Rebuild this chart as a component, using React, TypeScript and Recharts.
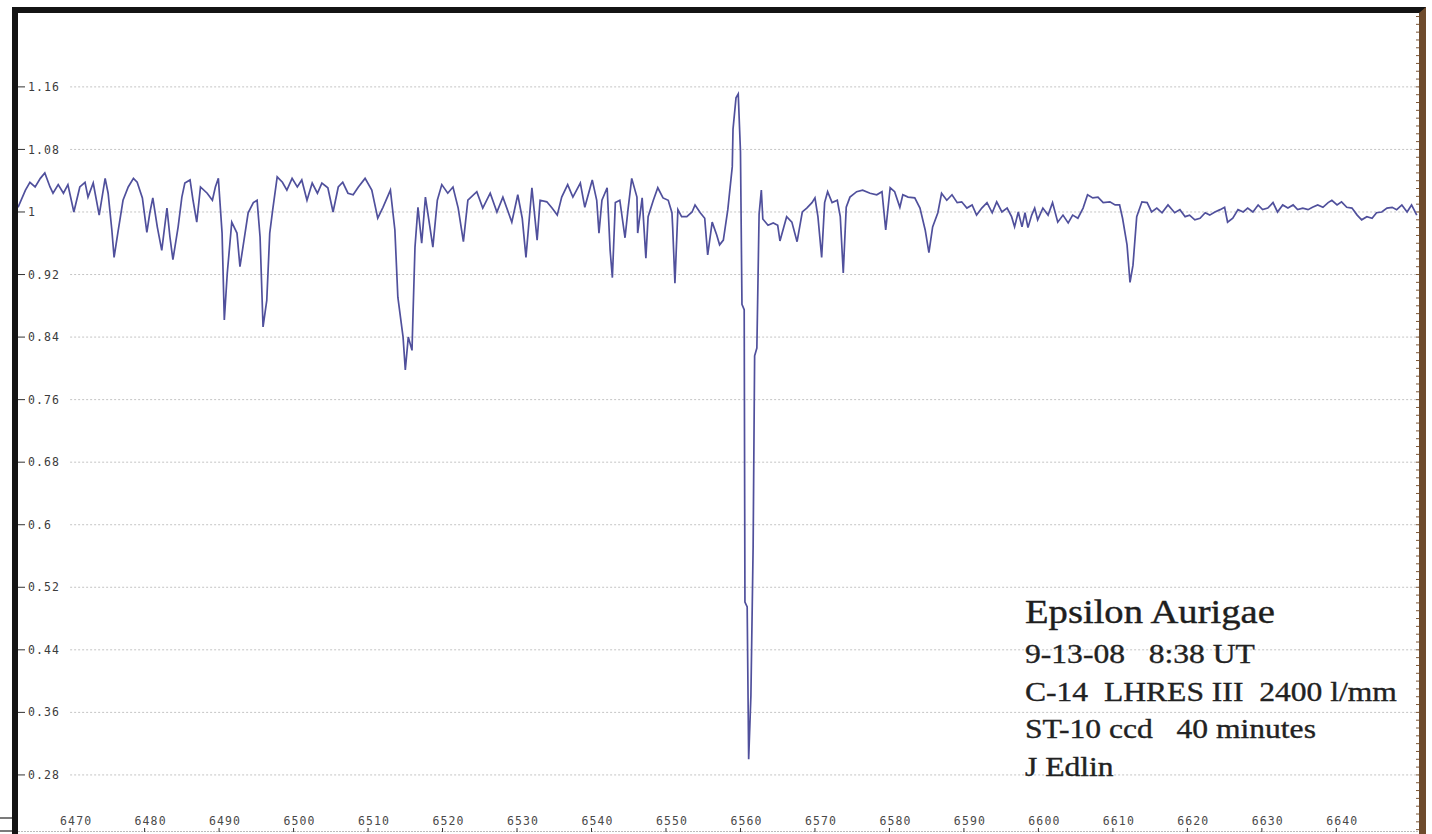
import { LineChart, Line, XAxis, YAxis, ReferenceLine } from "recharts";

// wavelength in Angstrom
const wavelength = [
  6463.0, 6464.0, 6464.6, 6465.3, 6466.0, 6466.6, 6467.3, 6467.7, 6468.4, 6469.1,
  6469.7, 6470.5, 6471.3, 6472.0, 6472.4, 6473.1, 6473.9, 6474.7, 6475.1, 6475.6,
  6475.9, 6476.4, 6477.1, 6477.8, 6478.5, 6479.0, 6479.7, 6480.3, 6480.7, 6481.1,
  6481.7, 6482.3, 6483.0, 6483.4, 6483.8, 6484.5, 6485.0, 6485.4, 6486.1, 6486.5,
  6487.0, 6487.5, 6488.4, 6489.1, 6489.5, 6489.9, 6490.4, 6490.7, 6491.1, 6491.7,
  6492.4, 6492.8, 6493.2, 6493.9, 6494.6, 6495.1, 6495.5, 6495.9, 6496.4, 6496.8,
  6497.2, 6497.8, 6498.5, 6499.1, 6499.8, 6500.5, 6501.1, 6501.8, 6502.5, 6503.2,
  6503.8, 6504.6, 6505.3, 6506.0, 6506.6, 6507.3, 6508.0, 6508.7, 6509.6, 6510.5,
  6511.3, 6512.0, 6513.0, 6513.6, 6514.0, 6514.7, 6515.0, 6515.4, 6515.9, 6516.0,
  6516.3, 6516.7, 6517.2, 6517.7, 6518.3, 6518.7, 6519.3, 6519.9, 6520.7, 6521.4,
  6522.1, 6522.8, 6523.4, 6524.6, 6525.4, 6526.4, 6527.3, 6528.1, 6529.3, 6530.1,
  6530.7, 6531.2, 6532.0, 6532.7, 6533.1, 6534.0, 6534.7, 6535.4, 6536.0, 6536.8,
  6537.5, 6538.5, 6539.1, 6540.1, 6540.7, 6541.0, 6541.4, 6542.1, 6542.5, 6542.8,
  6543.2, 6543.8, 6544.5, 6544.9, 6545.4, 6546.1, 6546.2, 6546.8, 6547.3, 6547.6,
  6548.3, 6548.9, 6549.6, 6550.3, 6550.8, 6550.9, 6551.2, 6551.6, 6552.1, 6552.8,
  6553.5, 6553.9, 6554.6, 6555.2, 6555.6, 6556.2, 6556.8, 6557.2, 6557.7, 6558.3,
  6558.9, 6559.0, 6559.4, 6559.7, 6560.0, 6560.2, 6560.5, 6560.6, 6560.9, 6561.1,
  6561.4, 6561.7, 6561.9, 6562.2, 6562.5, 6562.8, 6563.0, 6563.7, 6564.4, 6565.0,
  6565.3, 6566.2, 6566.9, 6567.6, 6568.3, 6568.9, 6569.6, 6570.0, 6570.4, 6570.9,
  6571.3, 6571.7, 6572.3, 6573.0, 6573.4, 6573.8, 6574.2, 6574.7, 6575.6, 6576.4,
  6577.4, 6578.3, 6579.0, 6579.5, 6580.1, 6580.7, 6581.4, 6581.8, 6582.5, 6583.4,
  6584.1, 6584.8, 6585.3, 6585.8, 6586.5, 6587.0, 6587.7, 6588.4, 6589.1, 6589.7,
  6590.4, 6591.1, 6591.7, 6592.4, 6593.1, 6593.8, 6594.4, 6595.1, 6595.8, 6596.4,
  6596.8, 6597.3, 6597.8, 6598.2, 6598.6, 6599.1, 6599.5, 6599.9, 6600.6, 6601.3,
  6601.9, 6602.6, 6603.3, 6604.0, 6604.6, 6605.3, 6606.0, 6606.6, 6607.3, 6608.0,
  6608.7, 6609.6, 6610.3, 6610.9, 6611.3, 6611.9, 6612.3, 6612.7, 6613.2, 6613.9,
  6614.6, 6615.2, 6615.9, 6616.6, 6617.4, 6618.3, 6619.0, 6619.7, 6620.3, 6621.0,
  6621.7, 6622.4, 6623.0, 6623.7, 6624.4, 6625.0, 6625.4, 6626.1, 6626.8, 6627.5,
  6628.1, 6628.8, 6629.5, 6630.1, 6630.8, 6631.5, 6632.1, 6632.8, 6633.5, 6634.2,
  6634.8, 6635.5, 6636.2, 6636.8, 6637.5, 6638.2, 6638.9, 6639.4, 6640.1, 6640.7,
  6641.4, 6642.1, 6642.8, 6643.4, 6644.1, 6644.8, 6645.4, 6646.1, 6646.8, 6647.5,
  6648.1, 6648.8, 6649.5, 6650.1, 6650.8,
];

// relative intensity, same order as wavelength
const flux = [
  1.006, 1.028, 1.038, 1.032, 1.043, 1.050, 1.032, 1.024, 1.035, 1.024,
  1.035, 1.000, 1.032, 1.038, 1.019, 1.037, 0.996, 1.043, 1.024, 0.977,
  0.942, 0.973, 1.015, 1.032, 1.043, 1.038, 1.018, 0.974, 0.999, 1.018,
  0.981, 0.951, 1.005, 0.968, 0.939, 0.981, 1.019, 1.037, 1.041, 1.015,
  0.987, 1.032, 1.024, 1.015, 1.032, 1.043, 0.973, 0.862, 0.922, 0.987,
  0.973, 0.930, 0.955, 0.999, 1.012, 1.015, 0.968, 0.853, 0.887, 0.973,
  1.003, 1.045, 1.038, 1.028, 1.043, 1.032, 1.041, 1.015, 1.037, 1.024,
  1.037, 1.031, 1.000, 1.032, 1.038, 1.024, 1.022, 1.032, 1.043, 1.028,
  0.992, 1.006, 1.028, 0.977, 0.891, 0.840, 0.798, 0.840, 0.823, 0.858,
  0.955, 1.006, 0.960, 1.019, 0.981, 0.955, 1.015, 1.035, 1.024, 1.032,
  1.005, 0.962, 1.015, 1.026, 1.005, 1.024, 1.000, 1.019, 0.987, 1.022,
  0.992, 0.942, 1.031, 0.964, 1.015, 1.013, 1.005, 0.996, 1.019, 1.035,
  1.019, 1.037, 1.006, 1.041, 1.015, 0.973, 1.015, 1.031, 0.951, 0.916,
  1.012, 1.015, 0.967, 1.003, 1.043, 1.019, 0.973, 1.018, 0.941, 0.994,
  1.015, 1.031, 1.018, 1.015, 0.999, 0.980, 0.909, 1.003, 0.994, 0.994,
  1.000, 1.009, 0.999, 0.992, 0.945, 0.987, 0.971, 0.958, 0.964, 1.003,
  1.058, 1.106, 1.146, 1.151, 1.077, 0.882, 0.875, 0.501, 0.495, 0.300,
  0.381, 0.572, 0.816, 0.826, 0.997, 1.028, 0.991, 0.983, 0.986, 0.983,
  0.963, 0.994, 0.987, 0.962, 1.000, 1.005, 1.012, 1.018, 0.994, 0.942,
  1.012, 1.026, 1.012, 1.015, 0.994, 0.922, 1.006, 1.019, 1.026, 1.028,
  1.024, 1.022, 1.026, 0.977, 1.031, 1.026, 1.006, 1.022, 1.019, 1.018,
  1.005, 0.977, 0.948, 0.981, 0.999, 1.024, 1.015, 1.022, 1.012, 1.013,
  1.005, 1.009, 0.996, 1.005, 1.012, 0.999, 1.013, 1.000, 1.005, 0.994,
  0.981, 1.000, 0.981, 0.999, 0.980, 0.996, 1.005, 0.990, 1.005, 0.996,
  1.012, 0.987, 0.996, 0.986, 0.996, 0.992, 1.005, 1.022, 1.018, 1.019,
  1.012, 1.013, 1.009, 1.009, 0.992, 0.958, 0.910, 0.932, 0.994, 1.013,
  1.012, 1.000, 1.005, 0.999, 1.009, 0.999, 1.003, 0.994, 0.996, 0.990,
  0.992, 0.999, 0.996, 1.000, 1.003, 1.006, 0.987, 0.992, 1.003, 1.000,
  1.005, 1.000, 1.009, 1.003, 1.005, 1.012, 1.000, 1.009, 1.005, 1.009,
  1.003, 1.005, 1.003, 1.006, 1.009, 1.006, 1.012, 1.015, 1.009, 1.013,
  1.006, 1.005, 0.996, 0.990, 0.994, 0.992, 0.999, 1.000, 1.005, 1.006,
  1.003, 1.009, 1.000, 1.009, 0.996,
];

const xTicks = [
  6470, 6480, 6490, 6500, 6510, 6520, 6530, 6540, 6550,
  6560, 6570, 6580, 6590, 6600, 6610, 6620, 6630, 6640,
];
const yTicks = [0.28, 0.36, 0.44, 0.52, 0.6, 0.68, 0.76, 0.84, 0.92, 1, 1.08, 1.16];

const notes = [
  "9-13-08   8:38 UT",
  "C-14  LHRES III  2400 l/mm",
  "ST-10 ccd   40 minutes",
  "J Edlin",
];

const X_DOMAIN: [number, number] = [6463, 6651.1];
const Y_DOMAIN: [number, number] = [0.207, 1.2545];

// small unlabelled notches along the frame
const frameXTicks = Array.from({ length: 188 }, (_, i) => 6464 + i);
const frameYTicks = Array.from({ length: 105 }, (_, i) => Math.round((0.21 + i * 0.01) * 100) / 100);

const data = wavelength.map((w, i) => ({ w, f: flux[i] }));

const tickFont = { fontFamily: "DejaVu Sans Mono, monospace", fontSize: 11.5, letterSpacing: 1.1 };
const serif = "Liberation Serif, Times New Roman, serif";

export default function App() {
  return (
    <div
      style={{
        position: "absolute",
        left: 0,
        top: 0,
        width: 1432,
        height: 834,
        background: "#fff",
        overflow: "hidden",
      }}
    >
      <div
        style={{
          position: "absolute",
          left: 12,
          top: 7,
          width: 1401,
          height: 840,
          borderLeft: "6px solid #141414",
          borderTop: "6px solid #141414",
          borderRight: "7px solid #6e4b2c",
        }}
      >
        <LineChart
          width={1401}
          height={819}
          data={data}
          margin={{ top: 0, right: 0, bottom: 0, left: 0 }}
        >
          <XAxis
            dataKey="w"
            type="number"
            domain={X_DOMAIN}
            allowDataOverflow
            ticks={xTicks}
            mirror
            interval={0}
            tickSize={4}
            tickMargin={3}
            axisLine={{ stroke: "#777", strokeDasharray: "2 1" }}
            tickLine={{ stroke: "#333" }}
            tick={{ ...tickFont, fill: "#4a4a4a", dx: 6 }}
          />
          <XAxis
            xAxisId="frame"
            orientation="top"
            type="number"
            domain={X_DOMAIN}
            allowDataOverflow
            ticks={frameXTicks}
            mirror
            interval={0}
            tickSize={4}
            axisLine={false}
            tickLine={{ stroke: "#222" }}
            tickFormatter={() => ""}
          />
          <YAxis
            type="number"
            domain={Y_DOMAIN}
            allowDataOverflow
            ticks={yTicks}
            mirror
            interval={0}
            tickSize={7}
            tickMargin={3}
            axisLine={false}
            tickLine={{ stroke: "#333" }}
            tick={{ ...tickFont, fill: "#3c3c3c" }}
          />
          <YAxis
            yAxisId="frameR"
            orientation="right"
            type="number"
            domain={Y_DOMAIN}
            allowDataOverflow
            ticks={frameYTicks}
            mirror
            interval={0}
            tickSize={3}
            axisLine={false}
            tickLine={{ stroke: "#7a5535" }}
            tickFormatter={() => ""}
          />
          {yTicks.map((v) => (
            <ReferenceLine
              key={v}
              segment={[
                { x: 6470, y: v },
                { x: X_DOMAIN[1], y: v },
              ]}
              stroke="#c4c4c4"
              strokeDasharray="2 2"
            />
          ))}
          <Line
            type="linear"
            dataKey="f"
            stroke="#50509c"
            strokeWidth={1.7}
            dot={false}
            isAnimationActive={false}
          />
        </LineChart>
      </div>
      <svg
        width={1432}
        height={834}
        style={{ position: "absolute", left: 0, top: 0, pointerEvents: "none" }}
      >
        <line x1={0} y1={818} x2={12} y2={818} stroke="#222" strokeWidth={1.2} />
        <line x1={0} y1={831} x2={12} y2={831} stroke="#222" strokeWidth={1.2} />
        <g transform="translate(1025,623) scale(1.17,1)">
          <text fontFamily={serif} fontSize={33} fill="#1e1e1e" stroke="#1e1e1e" strokeWidth={0.4}>
            Epsilon Aurigae
          </text>
        </g>
        {notes.map((t, i) => (
          <g key={t} transform={`translate(1025,${663 + i * 37.5}) scale(1.17,1)`}>
            <text
              fontFamily={serif}
              fontSize={27}
              fill="#222"
              stroke="#222"
              strokeWidth={0.35}
              style={{ whiteSpace: "pre" }}
            >
              {t}
            </text>
          </g>
        ))}
      </svg>
    </div>
  );
}
